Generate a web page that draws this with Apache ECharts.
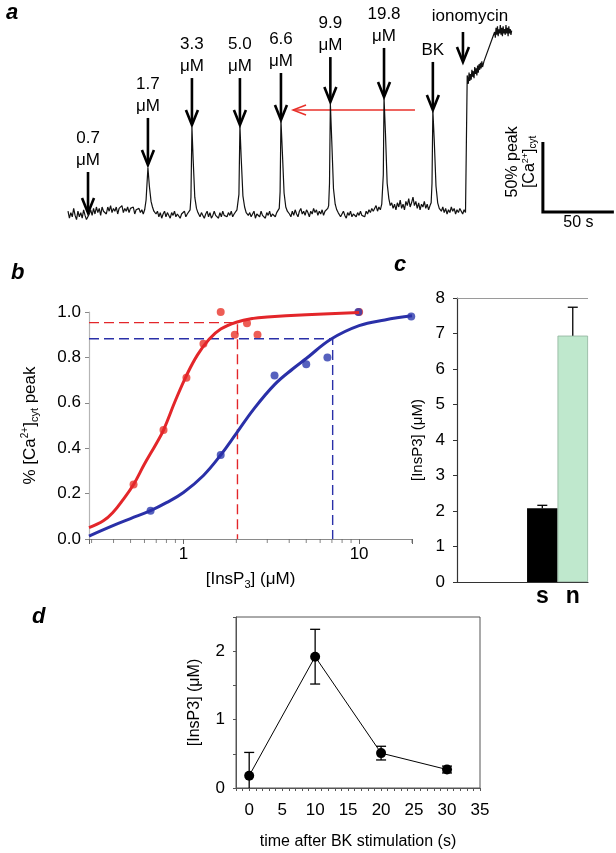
<!DOCTYPE html>
<html><head><meta charset="utf-8">
<script src="https://cdn.jsdelivr.net/npm/echarts@6/dist/echarts.min.js"></script>
<style>html,body{margin:0;padding:0;background:#fff}#c{width:616px;height:853px}</style>
</head><body><div id="c"></div>
<script>
const FF = '"Liberation Sans", Arial, Helvetica, sans-serif';

// ---------- Panel a : Ca trace [time s, % peak] ----------
const caTrace = [
  [0,2],[1,-3],[2,1],[3,-2],[4,4],[5,-1],[6,-4],[7,2],[8,-2],[9,1],[10,-3],[11,3],[12,-1],[13,-4],[14,-5],[15,0],
  [16,3],[17,-1],[18,4],[19,0],[20,5],[21,1],[22,4],[23,-1],[24,5],[25,2],[26,3],[27,0],[28,5],[29,2],[30,6],[31,1],
  [32,4],[33,2],[34,5],[35,0],[36,4],[37,3],[38,6],[39,1],[40,4],[41,2],[42,5],[43,1],[44,4],[45,3],[46,5],[47,0],
  [48,3],[49,2],[50,4],[51,1],[52,3],[53,0],[54,3],
  [55,10],[56.3,33],[57.3,20],[58.5,9],[59.5,5],[60.5,2],[61.5,3],
  [62,0],[63,2],[64,-2],[65,1],[66,-3],[67,0],[68,2],[69,-2],[70,1],[71,-1],[72,-3],[73,1],[74,-1],[75,2],[76,-2],
  [77,0],[78,1],[79,-3],[80,0],[81,-1],[82,2],[83,-2],[84,0],[85,1],[86,3],
  [86.6,12],[87.3,62],[88.2,38],[89.3,12],[90.5,4],[91.5,1],[92.5,2],
  [93,-2],[94,1],[95,-1],[96,-3],[97,0],[98,2],[99,-2],[100,1],[101,-3],[102,-1],[103,2],[104,-1],[105,0],[106,-3],
  [107,1],[108,-2],[109,2],[110,-1],[111,0],[112,-2],[113,1],[114,-1],[115,2],[116,-2],[117,0],[118,1],[119,3],
  [120.4,14],[121.1,63],[122,40],[123.2,13],[124.4,5],[125.5,1],[126.5,2],
  [127,-1],[128,1],[129,-2],[130,0],[131,2],[132,-3],[133,0],[134,1],[135,-2],[136,2],[137,-1],[138,0],[139,-3],
  [140,1],[141,-1],[142,2],[143,-2],[144,0],[145,1],[146,-2],[147,1],[148,2],[148.8,4],
  [149.4,16],[150,67],[151,44],[152.2,15],[153.4,5],[154.5,2],[155.5,3],
  [156,0],[157,-2],[158,2],[159,-1],[160,3],[161,0],[162,-2],[163,2],[164,4],[165,0],[166,2],[167,-1],[168,3],[169,1],
  [170,-2],[171,2],[172,0],[173,4],[174,1],[175,3],[176,-1],[177,2],[178,0],[179,3],[180,-1],[181,2],[182,1],[183,4],[183.6,6],
  [184.2,22],[184.8,79],[185.8,52],[187,18],[188.2,7],[189.3,3],[190.3,1],
  [191,2],[192,-2],[193,0],[194,2],[195,-1],[196,-3],[197,1],[198,-1],[199,2],[200,-2],[201,0],[202,1],[203,-2],[204,1],
  [205,-1],[206,2],[207,-1],[208,0],[209,-2],[210,2],[211,0],[212,3],[213,1],[214,4],[215,2],[216,3],[217,6],[218,2],
  [219,5],[220,3],[221,7],
  [222.1,28],[222.6,83],[223.6,58],[224.8,22],[226,11],[227,6],[228,8],
  [229,4],[230,7],[231,3],[232,8],[233,5],[234,10],[235,4],[236,7],[237,3],[238,9],[239,6],[240,11],[241,5],[242,8],
  [243,12],[244,6],[245,9],[246,4],[247,8],[248,3],[249,7],[250,5],[251,9],[252,4],[253,7],[254,3],[255,6],[255.8,8],
  [256.4,22],[257,74],[258,52],[259.2,20],[260.4,8],[261.5,4],[262.5,5],
  [263,2],[264,5],[265,1],[266,4],[267,0],[268,3],[269,1],[270,5],[271,2],[272,4],[273,0],[274,3],[275,1],[276,4],
  [277,2],[278,0],[279,3],[280,1],
  [280.6,50],[281.2,99],[282,93],[282.5,101],[283,95],[283.5,100],[284,96],[284.5,103],[285,98],[285.5,102],[286,97],
  [286.5,105],[287,100],[287.5,104],[288,99],[288.5,106],[289,101],[289.5,107],[290,103],[290.5,108],[291,104],
  [291.5,109],[292,105],[293,109],
  [300.5,130],[301,126],[301.5,133],[302,128],[302.5,134],[303,127],[303.5,132],[304,129],[304.5,135],[305,128],
  [305.5,133],[306,127],[306.5,134],[307,129],[307.5,132],[308,128],[308.5,135],[309,129],[309.5,133],[310,127],
  [310.5,134],[311,129],[311.5,132],[312,128],[312.5,131]
];
const arrowT     = [14.1, 56.3, 87.3, 121.1, 150.0, 184.8, 222.6, 257.0, 278.2];
const arrowTail  = [30, 68.6, 97.1, 97.1, 100.7, 112.1, 118.6, 108.6, 130];
const arrowTip   = [0.7, 35, 63.6, 63.6, 67.1, 80, 83.6, 74.3, 108.6];
const arrowLabels = ['0.7\nμM','1.7\nμM','3.3\nμM','5.0\nμM','6.6\nμM','9.9\nμM','19.8\nμM','BK','ionomycin'];
const redArrow = [244.4, 158.5, 74.3];          // from t, to t, level %
const scaleBar = [334.5, 1.5, 50, 50];          // t, base %, height %, width s

// ---------- Panel b : dose response ----------
const redX = [0.52,0.77,1.04,1.3,1.63,1.96,2.3,2.64,10];
const redY = [0.24,0.48,0.71,0.86,1.0,0.90,0.95,0.90,1.0];
const blueX = [0.65,1.63,3.3,5.0,6.6,9.9,19.8];
const blueY = [0.125,0.37,0.72,0.77,0.80,1.0,0.98];
const redCurveX = [0.29,0.35,0.4,0.45,0.52,0.6,0.7,0.77,0.9,1.04,1.2,1.4,1.63,2.0,2.5,3.0,5.0,10];
const redCurveY = [0.05,0.08,0.12,0.17,0.24,0.33,0.42,0.48,0.61,0.72,0.81,0.88,0.925,0.955,0.972,0.978,0.988,0.998];
const blueCurveX = [0.29,0.4,0.5,0.65,0.8,1.0,1.3,1.63,2.0,2.5,3.3,4.2,5.0,6.9,10,14,20];
const blueCurveY = [0.013,0.06,0.09,0.125,0.16,0.205,0.28,0.37,0.465,0.57,0.68,0.75,0.795,0.88,0.94,0.965,0.983];
const redGuide = [[0.29,0.953],[2.03,0.953],[2.03,0]];
const blueGuide = [[0.29,0.882],[7.07,0.882],[7.07,0]];
const bTickLabels = ['1','10'];
const bMinorTicks = [0.3,0.4,0.5,0.6,0.7,0.8,0.9,2,3,4,5,6,7,8,9,20];

// ---------- Panel c : bars ----------
const barCats = ['s','n'];
const barPos = [1, 2];
const barVals = [2.08, 6.94];
const barErr = [0.08, 0.80];
const barColors = ['#000000', '#bfe8cd'];

// ---------- Panel d : time course ----------
const dT = [0, 10, 20, 30];
const dVal = [0.18, 1.92, 0.51, 0.27];
const dErr = [0.34, 0.40, 0.10, 0.05];

const titleStyle = {fontSize:22, fontWeight:'bold', fontStyle:'italic', color:'#000', fontFamily:FF};
const lab17 = {fontSize:17, color:'#000', fontFamily:FF};

function renderArrow(params, api) {
  const x = api.value(0), tail = api.value(1), tip = api.value(2);
  const p1 = api.coord([x, tail]), p2 = api.coord([x, tip]);
  const lab = arrowLabels[params.dataIndex];
  const dx = lab === 'ionomycin' ? 7 : 0;
  const dy = lab === 'ionomycin' ? -5 : -1;
  return {type:'group', children:[
    {type:'line', shape:{x1:p1[0], y1:p1[1], x2:p2[0], y2:p2[1]-2}, style:{stroke:'#000', lineWidth:2.6}},
    {type:'polyline', shape:{points:[[p2[0]-6,p2[1]-15],[p2[0],p2[1]],[p2[0]+6,p2[1]-15]]},
      style:{stroke:'#000', lineWidth:2.6, fill:null}},
    {type:'text', style:{x:p1[0]+dx, y:p1[1]+dy, text:lab, fill:'#000', font:'17px '+FF,
      align:'center', verticalAlign:'bottom', lineHeight:22}}
  ]};
}
function renderRedArrow(params, api) {
  const a = api.coord([api.value(0), api.value(2)]), b = api.coord([api.value(1), api.value(2)]);
  return {type:'group', children:[
    {type:'line', shape:{x1:a[0], y1:a[1], x2:b[0], y2:b[1]}, style:{stroke:'#e8302a', lineWidth:1.5}},
    {type:'polyline', shape:{points:[[b[0]+13,b[1]-5],[b[0],b[1]],[b[0]+13,b[1]+5]]}, style:{stroke:'#e8302a', lineWidth:1.5, fill:null}}
  ]};
}
function renderScale(params, api) {
  const t = api.value(0), base = api.value(1), pct = api.value(2), sec = api.value(3);
  const o = api.coord([t, base]), top = api.coord([t, base + pct]), r = api.coord([t + sec, base]);
  return {type:'group', children:[
    {type:'polyline', shape:{points:[top, o, r]}, style:{stroke:'#000', lineWidth:3, fill:null}},
    {type:'text', style:{x:(o[0]+r[0])/2, y:o[1]+3, text: sec + ' s', font:'16px '+FF, fill:'#000', align:'center', verticalAlign:'top'}},
    {type:'text', x:o[0]-21.5, y:(o[1]+top[1])/2 - 15, rotation:Math.PI/2,
      style:{x:0, y:0, text: pct + '% peak\n[Ca{sup|2+}]{sub|cyt}', font:'16px '+FF, fill:'#000',
        align:'center', verticalAlign:'middle', lineHeight:17,
        rich:{sup:{fontSize:9, fontFamily:FF, verticalAlign:'top', lineHeight:17},
              sub:{fontSize:10, fontFamily:FF, verticalAlign:'bottom', lineHeight:17}}}}
  ]};
}
function renderErr(lowerCap) {
  return function(params, api) {
    const x = api.value(0), lo = api.value(1), hi = api.value(2);
    const pl = api.coord([x, lo]), ph = api.coord([x, hi]);
    const ch = [
      {type:'line', shape:{x1:pl[0], y1:pl[1], x2:ph[0], y2:ph[1]}, style:{stroke:'#000', lineWidth:1.3}},
      {type:'line', shape:{x1:ph[0]-5, y1:ph[1], x2:ph[0]+5, y2:ph[1]}, style:{stroke:'#000', lineWidth:1.3}}
    ];
    if (lowerCap) ch.push({type:'line', shape:{x1:pl[0]-5, y1:pl[1], x2:pl[0]+5, y2:pl[1]}, style:{stroke:'#000', lineWidth:1.3}});
    return {type:'group', children:ch};
  };
}

const zip = (xs, ys) => xs.map((x, i) => [x, ys[i]]);

const option = {
  animation: false,
  backgroundColor: '#fff',
  title: [
    {text:'a', left:6, top:2, padding:0, textStyle:titleStyle},
    {text:'b', left:11, top:262, padding:0, textStyle:titleStyle},
    {text:'c', left:394, top:254, padding:0, textStyle:titleStyle},
    {text:'d', left:32, top:606, padding:0, textStyle:titleStyle}
  ],
  grid: [
    {left:68, top:18, width:548, height:210, containLabel:false, outerBoundsMode:'none'},
    {left:89, top:312, width:323, height:227, containLabel:false, outerBoundsMode:'none'},
    {left:457, top:298, width:131, height:284, containLabel:false, outerBoundsMode:'none'},
    {left:236, top:617, width:244, height:171, containLabel:false, outerBoundsMode:'none', show:true, borderColor:'#555', borderWidth:1}
  ],
  xAxis: [
    {gridIndex:0, type:'value', min:0, max:386, show:false},
    {gridIndex:1, type:'log', logBase:10, min:0.29, max:20,
      axisLine:{show:true, onZero:false, lineStyle:{color:'#8a8a8a', width:1.2}},
      axisTick:{show:true, length:5, lineStyle:{color:'#666'}},
      splitLine:{show:false}, minorTick:{show:false}, minorSplitLine:{show:false},
      axisLabel:Object.assign({margin:7, formatter: v => { const s = String(Math.round(v*1000)/1000); return bTickLabels.includes(s) ? s : ''; }}, lab17),
      name:'[InsP{sub|3}] (μM)', nameLocation:'middle', nameGap:29,
      nameTextStyle:{fontSize:17, color:'#000', fontFamily:FF, lineHeight:22,
        rich:{sub:{fontSize:11, fontFamily:FF, verticalAlign:'bottom', lineHeight:22}}}},
    {gridIndex:2, type:'value', min:-1.8, max:2.5,
      axisLine:{show:true, onZero:false, lineStyle:{color:'#333', width:1.2}},
      axisTick:{show:false}, axisLabel:{show:false}, splitLine:{show:false}},
    {gridIndex:3, type:'value', min:-2, max:35, interval:1,
      axisLine:{show:true, onZero:false, lineStyle:{color:'#555'}},
      axisTick:{show:true, length:3, lineStyle:{color:'#555'}},
      splitLine:{show:false},
      axisLabel:Object.assign({margin:14, formatter: v => (v >= 0 && v % 5 === 0) ? String(v) : ''}, lab17),
      name:'time after BK stimulation (s)', nameLocation:'middle', nameGap:46,
      nameTextStyle:{fontSize:16, color:'#000', fontFamily:FF}}
  ],
  yAxis: [
    {gridIndex:0, type:'value', min:-10, max:140, show:false},
    {gridIndex:1, type:'value', min:0, max:1.0, interval:0.2,
      axisLine:{show:true, onZero:false, lineStyle:{color:'#b5b5b5', width:1.2}},
      axisTick:{show:true, length:4, lineStyle:{color:'#888'}},
      splitLine:{show:false},
      axisLabel:Object.assign({margin:8, formatter: v => v.toFixed(1)}, lab17),
      name:'% [Ca{sup|2+}]{sub|cyt} peak', nameLocation:'middle', nameRotate:90, nameGap:49,
      nameTextStyle:{fontSize:17, color:'#000', fontFamily:FF, lineHeight:20,
        rich:{sup:{fontSize:10, fontFamily:FF, verticalAlign:'top', lineHeight:20},
              sub:{fontSize:11, fontFamily:FF, verticalAlign:'bottom', lineHeight:20}}}},
    {gridIndex:2, type:'value', min:0, max:8, interval:1,
      axisLine:{show:true, onZero:false, lineStyle:{color:'#333', width:1.2}},
      axisTick:{show:true, length:4, lineStyle:{color:'#333'}},
      splitLine:{show:false},
      axisLabel:Object.assign({margin:12}, lab17),
      name:'[InsP3] (μM)', nameLocation:'middle', nameRotate:90, nameGap:32,
      nameTextStyle:{fontSize:15, color:'#000', fontFamily:FF}},
    {gridIndex:3, type:'value', min:0, max:2.5, interval:0.5,
      axisLine:{show:true, onZero:false, lineStyle:{color:'#555'}},
      axisTick:{show:true, length:3, lineStyle:{color:'#555'}},
      splitLine:{show:false},
      axisLabel:Object.assign({margin:11, formatter: v => Number.isInteger(v) ? String(v) : ''}, lab17),
      name:'[InsP3] (μM)', nameLocation:'middle', nameRotate:90, nameGap:33,
      nameTextStyle:{fontSize:16, color:'#000', fontFamily:FF}}
  ],
  series: [
    // panel a
    {type:'line', xAxisIndex:0, yAxisIndex:0, data:caTrace, showSymbol:false, symbol:'none',
      lineStyle:{color:'#111', width:1.2}, silent:true},
    {type:'custom', xAxisIndex:0, yAxisIndex:0, renderItem:renderArrow, data:arrowT.map((t,i)=>[t, arrowTail[i], arrowTip[i]]), silent:true},
    {type:'custom', xAxisIndex:0, yAxisIndex:0, renderItem:renderRedArrow, data:[redArrow], silent:true},
    {type:'custom', xAxisIndex:0, yAxisIndex:0, renderItem:renderScale, data:[scaleBar], silent:true},
    // panel b
    {type:'scatter', xAxisIndex:1, yAxisIndex:1, data:bMinorTicks.map(v=>[v,0]), symbol:'rect', symbolSize:[1,4], symbolOffset:[0,2],
      itemStyle:{color:'#666'}, silent:true, z:1},
    {type:'line', xAxisIndex:1, yAxisIndex:1, data:redGuide, symbol:'none', lineStyle:{color:'#e3262a', width:1.4, type:[10,5]}, silent:true},
    {type:'line', xAxisIndex:1, yAxisIndex:1, data:blueGuide, symbol:'none', lineStyle:{color:'#2a30a8', width:1.4, type:[10,5]}, silent:true},
    {type:'line', xAxisIndex:1, yAxisIndex:1, data:zip(redCurveX, redCurveY), smooth:0.4, symbol:'none', lineStyle:{color:'#e3262a', width:3}, silent:true},
    {type:'line', xAxisIndex:1, yAxisIndex:1, data:zip(blueCurveX, blueCurveY), smooth:0.4, symbol:'none', lineStyle:{color:'#2a30a8', width:3}, silent:true},
    {type:'scatter', xAxisIndex:1, yAxisIndex:1, data:zip(redX, redY), symbolSize:8, itemStyle:{color:'#e8352b'}, silent:true},
    {type:'scatter', xAxisIndex:1, yAxisIndex:1, data:zip(blueX, blueY), symbolSize:8, itemStyle:{color:'#2c3aae'}, silent:true},
    // panel c
    {type:'bar', xAxisIndex:2, yAxisIndex:2, barWidth:30.5,
      data:barPos.map((p,i)=>({value:[p, barVals[i]], itemStyle:{color:barColors[i], borderColor: i ? '#8fb39c' : '#000', borderWidth: i ? 0.8 : 0}})),
      label:{show:true, position:'bottom', distance:3, formatter: p => barCats[p.dataIndex], fontSize:23, fontWeight:'bold', color:'#000', fontFamily:FF},
      markLine:{silent:true, symbol:'none', label:{show:false}, lineStyle:{color:'#9a9a9a', type:'solid', width:1}, data:[{yAxis:8}]},
      silent:true},
    {type:'custom', xAxisIndex:2, yAxisIndex:2, renderItem:renderErr(false), data:barPos.map((p,i)=>[p, barVals[i], barVals[i]+barErr[i]]), silent:true, z:3},
    // panel d
    {type:'custom', xAxisIndex:3, yAxisIndex:3, renderItem:renderErr(true), clip:true, data:dT.map((t,i)=>[t, dVal[i]-dErr[i], dVal[i]+dErr[i]]), silent:true},
    {type:'line', xAxisIndex:3, yAxisIndex:3, data:zip(dT, dVal), symbol:'circle', symbolSize:10, showSymbol:true,
      itemStyle:{color:'#000'}, lineStyle:{color:'#000', width:1}, silent:true, z:4}
  ]
};
const chart = echarts.init(document.getElementById('c'), null, {renderer:'canvas'});
chart.setOption(option);
</script></body></html>
